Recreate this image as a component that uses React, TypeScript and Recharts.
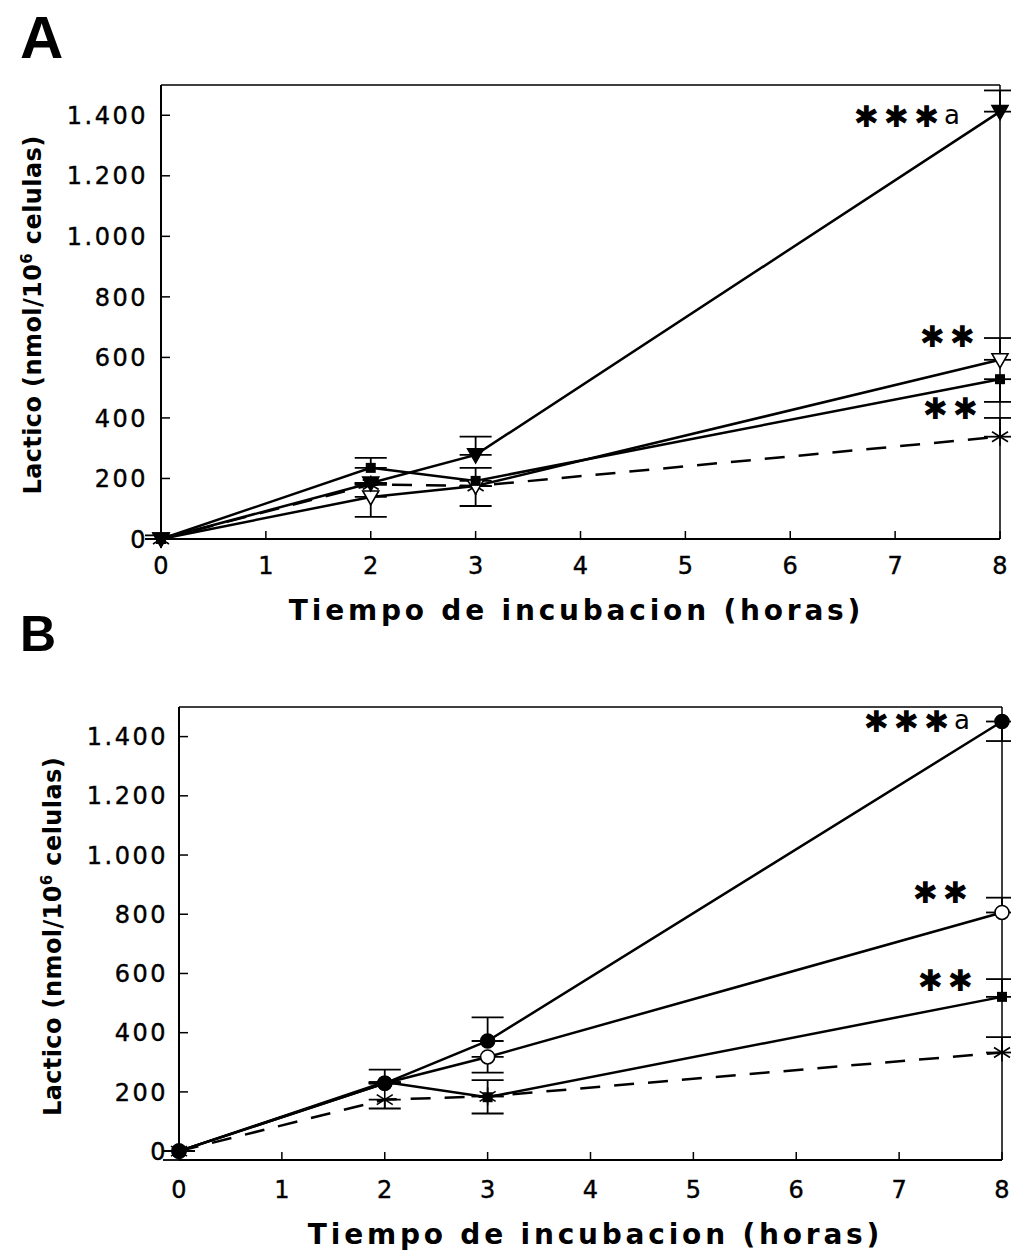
import React from 'react';
import { LineChart, Line, XAxis, YAxis, ErrorBar, ReferenceLine, ReferenceDot } from 'recharts';

// ---------- shared ----------
const hours = [0, 2, 3, 8];
const xTicks = [0, 1, 2, 3, 4, 5, 6, 7, 8];
const yTicks = [0, 200, 400, 600, 800, 1000, 1200, 1400];
const xTitle = 'Tiempo de incubacion (horas)';

// ---------- panel A ----------
const aFilledTri = [0, 185, 278, 1412];
const aFilledTriErr = [[0, 12], [0, 0], [0, 60], [0, 70]];
const aSquare = [0, 235, 192, 528];
const aSquareErr = [[0, 0], [0, 33], [0, 43], [75, 0]];
const aOpenTri = [0, 139, 175, 592];
const aOpenTriErr = [[0, 0], [66, 0], [66, 0], [0, 72]];
const aStar = [0, 180, 175, 338];
const aStarErr = [[0, 0], [0, 0], [0, 0], [0, 62]];

// ---------- panel B ----------
const bFilledCirc = [0, 229, 372, 1451];
const bFilledCircErr = [[0, 0], [0, 46], [0, 80], [66, 0]];
const bOpenCirc = [0, 229, 318, 806];
const bOpenCircErr = [[0, 0], [0, 0], [53, 0], [0, 50]];
const bSquare = [0, 233, 182, 521];
const bSquareErr = [[0, 0], [0, 0], [55, 58], [0, 60]];
const bStar = [0, 174, 185, 333];
const bStarErr = [[30, 0], [30, 0], [0, 0], [0, 52]];

const dataA = hours.map((h, i) => ({
  h,
  s1: aFilledTri[i], e1: aFilledTriErr[i],
  s2: aSquare[i], e2: aSquareErr[i],
  s3: aOpenTri[i], e3: aOpenTriErr[i],
  s4: aStar[i], e4: aStarErr[i],
}));

const dataB = hours.map((h, i) => ({
  h,
  s1: bFilledCirc[i], e1: bFilledCircErr[i],
  s2: bOpenCirc[i], e2: bOpenCircErr[i],
  s3: bSquare[i], e3: bSquareErr[i],
  s4: bStar[i], e4: bStarErr[i],
}));

const fmt = (v: number) =>
  v >= 1000 ? `${Math.floor(v / 1000)}.${String(v % 1000).padStart(3, '0')}` : String(v);

const TICK_FONT = 'DejaVu Sans';
const TITLE_FONT = 'DejaVu Sans';

// ---------- markers ----------
const triDown = (fill: string) => (p: any) => {
  const { cx, cy, index } = p;
  if (cx == null || cy == null) return <g key={`t${index}`} />;
  return (
    <polygon
      key={`t${index}`}
      points={`${cx - 8},${cy - 6} ${cx + 8},${cy - 6} ${cx},${cy + 8}`}
      fill={fill}
      stroke="#000"
      strokeWidth={1.6}
    />
  );
};
const square = (p: any) => {
  const { cx, cy, index } = p;
  if (cx == null || cy == null) return <g key={`q${index}`} />;
  return <rect key={`q${index}`} x={cx - 5} y={cy - 5} width={10} height={10} fill="#000" />;
};
const circle = (fill: string) => (p: any) => {
  const { cx, cy, index } = p;
  if (cx == null || cy == null) return <g key={`c${index}`} />;
  return <circle key={`c${index}`} cx={cx} cy={cy} r={7} fill={fill} stroke="#000" strokeWidth={1.6} />;
};
const star = (p: any) => {
  const { cx, cy, index } = p;
  if (cx == null || cy == null) return <g key={`s${index}`} />;
  return (
    <g key={`s${index}`} stroke="#000" strokeWidth={1.6}>
      <line x1={cx} y1={cy - 9} x2={cx} y2={cy + 9} />
      <line x1={cx - 8} y1={cy - 5} x2={cx + 8} y2={cy + 5} />
      <line x1={cx - 8} y1={cy + 5} x2={cx + 8} y2={cy - 5} />
    </g>
  );
};

// ---------- ticks ----------
const XTick = (p: any) => (
  <text
    x={p.x}
    y={p.y}
    dy="0.71em"
    textAnchor="middle"
    fontFamily={TICK_FONT}
    fontSize={24}
    fill="#000"
    stroke="#000"
    strokeWidth={0.4}
  >
    {p.payload.value}
  </text>
);
const YTick = (p: any) => (
  <text
    x={p.x}
    y={p.y}
    dy="0.36em"
    textAnchor="end"
    fontFamily={TICK_FONT}
    fontSize={24}
    fill="#000"
    stroke="#000"
    strokeWidth={0.4}
    style={{ letterSpacing: '2.5px' }}
  >
    {fmt(p.payload.value)}
  </text>
);

const XTitleContent = (dx: number, dy: number) => (p: any) => {
  const vb = p.viewBox;
  return (
    <text
      x={vb.x + vb.width / 2 + dx}
      y={vb.y + dy}
      textAnchor="middle"
      fontFamily={TITLE_FONT}
      fontWeight="bold"
      fontSize={28}
      fill="#000"
      style={{ letterSpacing: '3.8px' }}
    >
      {xTitle}
    </text>
  );
};

const YTitleContent = (bx: number, dy: number) => (p: any) => {
  const vb = p.viewBox;
  const cy = vb.y + vb.height / 2 + dy;
  return (
    <text
      transform={`translate(${bx},${cy}) rotate(-90)`}
      textAnchor="middle"
      fontFamily={TITLE_FONT}
      fontWeight="bold"
      fontSize={24}
      fill="#000"
      style={{ letterSpacing: '0.4px' }}
    >
      <tspan>Lactico (nmol/10</tspan>
      <tspan dy={-9} fontSize={15}>6</tspan>
      <tspan dy={9}> celulas)</tspan>
    </text>
  );
};

const Annot = (text: string, suffix: string, offset: number) => (p: any) => {
  const vb = p.viewBox;
  const x = vb.x - offset;
  const y = vb.y;
  return (
    <text x={x} y={y} textAnchor="end" fill="#000">
      <tspan fontFamily="DejaVu Sans" fontSize={30} dy={12} style={{ letterSpacing: '5px' }}>{text}</tspan>
      {suffix ? (
        <tspan fontFamily="DejaVu Sans" fontSize={26} dy={-3}>{suffix}</tspan>
      ) : null}
    </text>
  );
};

type PanelProps = {
  data: any[];
  top: number;
  height: number;
  margin: { top: number; right: number; bottom: number; left: number };
  yAxisWidth: number;
  xAxisHeight: number;
  yTickMargin: number;
  xTickMargin: number;
  xTitleDx: number;
  xTitleDy: number;
  yTitleX: number;
  yTitleDy: number;
  dots: any[];
  annots: { y: number; text: string; suffix: string; offset: number }[];
};

const Panel = (pp: PanelProps) => (
  <div style={{ position: 'absolute', left: 0, top: pp.top, width: 1011, height: pp.height }}>
    <LineChart width={1011} height={pp.height} data={pp.data} margin={pp.margin}>
      <XAxis
        dataKey="h"
        type="number"
        domain={[0, 8]}
        ticks={xTicks}
        interval={0}
        height={pp.xAxisHeight}
        tickSize={-8}
        tickMargin={pp.xTickMargin}
        axisLine={{ stroke: '#000', strokeWidth: 2 }}
        tickLine={{ stroke: '#000', strokeWidth: 1.5 }}
        tick={XTick}
        label={{ content: XTitleContent(pp.xTitleDx, pp.xTitleDy) }}
      />
      <YAxis
        type="number"
        domain={[0, 1500]}
        ticks={yTicks}
        interval={0}
        width={pp.yAxisWidth}
        tickSize={-9}
        tickMargin={pp.yTickMargin}
        axisLine={{ stroke: '#000', strokeWidth: 2 }}
        tickLine={{ stroke: '#000', strokeWidth: 1.5 }}
        tick={YTick}
        label={{ content: YTitleContent(pp.yTitleX, pp.yTitleDy) }}
      />
      <ReferenceLine y={1500} stroke="#000" strokeWidth={1.5} />
      <ReferenceLine x={8} stroke="#000" strokeWidth={1.5} />
      <Line
        dataKey="s4"
        stroke="#000"
        strokeWidth={2.5}
        strokeDasharray="20 14"
        dot={pp.dots[3]}
        activeDot={false}
        isAnimationActive={false}
      >
        <ErrorBar dataKey="e4" width={16} stroke="#000" strokeWidth={1.8} />
      </Line>
      <Line dataKey="s3" stroke="#000" strokeWidth={2.5} dot={pp.dots[2]} activeDot={false} isAnimationActive={false}>
        <ErrorBar dataKey="e3" width={16} stroke="#000" strokeWidth={1.8} />
      </Line>
      <Line dataKey="s2" stroke="#000" strokeWidth={2.5} dot={pp.dots[1]} activeDot={false} isAnimationActive={false}>
        <ErrorBar dataKey="e2" width={16} stroke="#000" strokeWidth={1.8} />
      </Line>
      <Line dataKey="s1" stroke="#000" strokeWidth={2.5} dot={pp.dots[0]} activeDot={false} isAnimationActive={false}>
        <ErrorBar dataKey="e1" width={16} stroke="#000" strokeWidth={1.8} />
      </Line>
      {pp.annots.map((a, i) => (
        <ReferenceDot
          key={i}
          x={8}
          y={a.y}
          r={0}
          stroke="none"
          fill="none"
          label={{ content: Annot(a.text, a.suffix, a.offset) }}
        />
      ))}
    </LineChart>
  </div>
);

export default function App() {
  return (
    <div style={{ position: 'absolute', left: 0, top: 0, width: 1011, height: 1252, background: '#fff', overflow: 'hidden' }}>
      <svg style={{ position: 'absolute', left: 0, top: 0 }} width={1011} height={1252}>
        <text x={20} y={58} fontFamily="Liberation Sans" fontWeight="bold" fontSize={60} fill="#000">A</text>
        <text x={20} y={651} fontFamily="Liberation Sans" fontWeight="bold" fontSize={50} fill="#000">B</text>
      </svg>
      <Panel
        data={dataA}
        top={0}
        height={640}
        margin={{ top: 85, right: 11, bottom: 0, left: 0 }}
        yAxisWidth={161}
        xAxisHeight={101}
        yTickMargin={22}
        xTickMargin={26}
        xTitleDx={-4}
        xTitleDy={81}
        yTitleX={41}
        yTitleDy={3}
        dots={[triDown('#000'), square, triDown('#fff'), star]}
        annots={[
          { y: 1400, text: '✱✱✱', suffix: 'a', offset: 40 },
          { y: 674, text: '✱✱', suffix: '', offset: 20 },
          { y: 436, text: '✱✱', suffix: '', offset: 17 },
        ]}
      />
      <Panel
        data={dataB}
        top={620}
        height={632}
        margin={{ top: 87, right: 9, bottom: 0, left: 0 }}
        yAxisWidth={179}
        xAxisHeight={92}
        yTickMargin={20}
        xTickMargin={29}
        xTitleDx={5}
        xTitleDy={84}
        yTitleX={61}
        yTitleDy={3}
        dots={[circle('#000'), circle('#fff'), square, star]}
        annots={[
          { y: 1457, text: '✱✱✱', suffix: 'a', offset: 32 },
          { y: 877, text: '✱✱', suffix: '', offset: 29 },
          { y: 580, text: '✱✱', suffix: '', offset: 24 },
        ]}
      />
    </div>
  );
}
